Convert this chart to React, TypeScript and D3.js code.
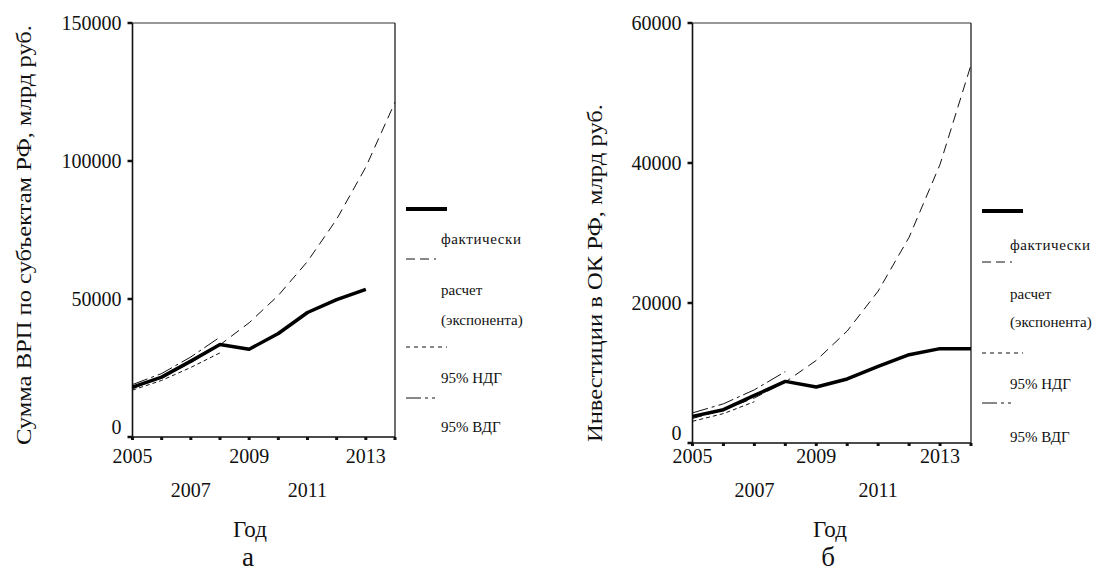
import * as d3 from "d3";

const years = [2005, 2006, 2007, 2008, 2009, 2010, 2011, 2012, 2013, 2014];
const tickRow1 = [2005, 2009, 2013];
const tickRow2 = [2007, 2011];

// а — сумма ВРП
const vrpActual = [18100, 21700, 27500, 33500, 31800, 37500, 45100, 49800, 53500];
const vrpForecast = [17500, 21700, 26900, 33400, 41400, 51300, 63600, 78900, 97800, 121300];
const vrpLower = [17000, 20500, 25200, 30500];
const vrpUpper = [19000, 23000, 29000, 36200];
const vrpTicks = [0, 50000, 100000, 150000];

// б — инвестиции
const invActual = [3800, 4760, 6800, 8800, 8000, 9150, 10950, 12620, 13480, 13480];
const invForecast = [3500, 4750, 6430, 8710, 11800, 16000, 21700, 29400, 39800, 54000];
const invLower = [3100, 4200, 5900];
const invUpper = [4300, 5600, 7600, 10200];
const invTicks = [0, 20000, 40000, 60000];

const legendLabels = ["фактически", "расчет", "(экспонента)", "95% НДГ", "95% ВДГ"];

const FONT = "'Liberation Serif', 'Times New Roman', Times, 'DejaVu Serif', serif";

const DASH_FORECAST = "10,6";
const DASH_LOWER = "4,3";
const DASH_UPPER = "16,4,3,4";

type PanelProps = {
  x0: number;
  x1: number;
  yTop: number;
  yBottom: number;
  yMax: number;
  yTicks: number[];
  actual: number[];
  forecast: number[];
  lower: number[];
  upper: number[];
  title: string;
  titleX: number;
  titleY: number;
  titleLen: number;
  letter: string;
  centerX: number;
  legendX: number;
  legendTextX: number;
  legendYs: number[];
};

function Panel(p: PanelProps) {
  const x = d3.scaleLinear().domain([2005, 2014]).range([p.x0, p.x1]);
  const y = d3.scaleLinear().domain([0, p.yMax]).range([p.yBottom, p.yTop]);
  const line = d3
    .line<number>()
    .x((_, i) => x(years[i]))
    .y((d) => y(d));

  const ly = p.legendYs;
  return (
    <g style={{ fontFamily: FONT }} fill="#111">
      {/* frame */}
      <line x1={p.x0} y1={p.yTop} x2={p.x1} y2={p.yTop} stroke="#333" strokeWidth={1} />
      <line x1={p.x1} y1={p.yTop} x2={p.x1} y2={p.yBottom} stroke="#222" strokeWidth={1.3} />
      <line x1={p.x0} y1={p.yTop} x2={p.x0} y2={p.yBottom} stroke="#111" strokeWidth={1.6} />
      <line x1={p.x0} y1={p.yBottom} x2={p.x1} y2={p.yBottom} stroke="#111" strokeWidth={1.6} />

      {/* y ticks */}
      {p.yTicks.map((t) => (
        <g key={t}>
          <line x1={p.x0 - 5} x2={p.x0} y1={y(t)} y2={y(t)} stroke="#111" strokeWidth={2.5} />
          <text
            x={p.x0 - 11}
            y={t === 0 ? y(t) - 10 : y(t)}
            textAnchor="end"
            dominantBaseline="central"
            fontSize={20}
          >
            {t}
          </text>
        </g>
      ))}

      {/* x ticks */}
      {years.map((yr) => (
        <rect key={yr} x={x(yr) - 1.5} y={p.yBottom} width={3} height={3} fill="#111" />
      ))}
      {tickRow1.map((yr) => (
        <text key={yr} x={x(yr)} y={463} textAnchor="middle" fontSize={20}>
          {yr}
        </text>
      ))}
      {tickRow2.map((yr) => (
        <text key={yr} x={x(yr)} y={497} textAnchor="middle" fontSize={20}>
          {yr}
        </text>
      ))}

      <text x={p.centerX} y={537} textAnchor="middle" fontSize={23}>
        Год
      </text>
      <text x={p.centerX - 2} y={566} textAnchor="middle" fontSize={27}>
        {p.letter}
      </text>

      <text
        transform={`translate(${p.titleX},${p.titleY}) rotate(-90)`}
        textAnchor="middle"
        dominantBaseline="central"
        fontSize={21}
        textLength={p.titleLen}
        lengthAdjust="spacingAndGlyphs"
      >
        {p.title}
      </text>

      {/* series */}
      <path d={line(p.upper) ?? ""} fill="none" stroke="#111" strokeWidth={1} strokeDasharray={DASH_UPPER} />
      <path d={line(p.lower) ?? ""} fill="none" stroke="#111" strokeWidth={1} strokeDasharray={DASH_LOWER} />
      <path d={line(p.forecast) ?? ""} fill="none" stroke="#111" strokeWidth={1} strokeDasharray={DASH_FORECAST} />
      <path d={line(p.actual) ?? ""} fill="none" stroke="#000" strokeWidth={3.5} strokeLinejoin="round" />

      {/* legend */}
      <line x1={p.legendX} x2={p.legendX + 41} y1={ly[0]} y2={ly[0]} stroke="#000" strokeWidth={4} />
      <text x={p.legendTextX} y={ly[1]} dominantBaseline="central" fontSize={15} letterSpacing={0.6}>
        {legendLabels[0]}
      </text>
      <line x1={p.legendX} x2={p.legendX + 41} y1={ly[2]} y2={ly[2]} stroke="#111" strokeWidth={1} strokeDasharray="9,5,9,5,2,20" />
      <text x={p.legendTextX} y={ly[3]} dominantBaseline="central" fontSize={15}>
        {legendLabels[1]}
      </text>
      <text x={p.legendTextX} y={ly[4]} dominantBaseline="central" fontSize={15}>
        {legendLabels[2]}
      </text>
      <line x1={p.legendX} x2={p.legendX + 41} y1={ly[5]} y2={ly[5]} stroke="#111" strokeWidth={1} strokeDasharray="4,4" />
      <text x={p.legendTextX} y={ly[6]} dominantBaseline="central" fontSize={15}>
        {legendLabels[3]}
      </text>
      <line x1={p.legendX} x2={p.legendX + 41} y1={ly[7]} y2={ly[7]} stroke="#111" strokeWidth={1} strokeDasharray="15,4,3,4,3,20" />
      <text x={p.legendTextX} y={ly[8]} dominantBaseline="central" fontSize={15}>
        {legendLabels[4]}
      </text>
    </g>
  );
}

export default function App() {
  return (
    <svg
      width={1112}
      height={572}
      style={{ position: "absolute", left: 0, top: 0, background: "#fff" }}
    >
      <Panel
        x0={132.5}
        x1={395}
        yTop={23}
        yBottom={437}
        yMax={150000}
        yTicks={vrpTicks}
        actual={vrpActual}
        forecast={vrpForecast}
        lower={vrpLower}
        upper={vrpUpper}
        title="Сумма ВРП по субъектам РФ, млрд руб."
        titleX={24}
        titleY={235}
        titleLen={420}
        letter="а"
        centerX={250}
        legendX={406}
        legendTextX={441}
        legendYs={[209, 239, 259, 290, 320, 347, 378, 398, 427]}
      />
      <Panel
        x0={692.5}
        x1={971}
        yTop={23}
        yBottom={443}
        yMax={60000}
        yTicks={invTicks}
        actual={invActual}
        forecast={invForecast}
        lower={invLower}
        upper={invUpper}
        title="Инвестиции в ОК РФ, млрд руб."
        titleX={595}
        titleY={273}
        titleLen={338}
        letter="б"
        centerX={830}
        legendX={982}
        legendTextX={1010}
        legendYs={[211, 245, 262, 294, 322, 353, 384, 403, 437]}
      />
    </svg>
  );
}
